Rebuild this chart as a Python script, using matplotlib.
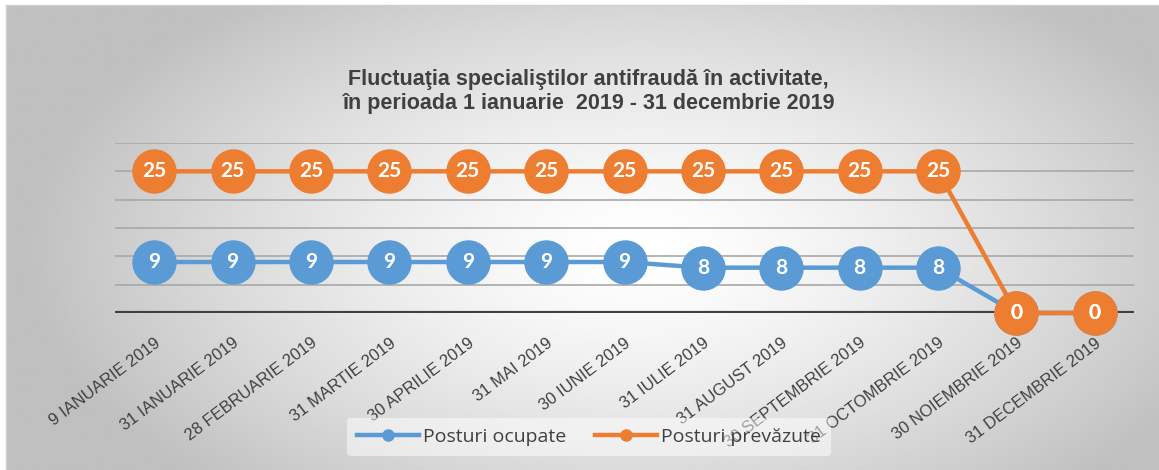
import numpy as np
import matplotlib.pyplot as plt
from matplotlib.lines import Line2D

# ── Data ────────────────────────────────────────────────────
dates = ["9 IANUARIE 2019", "31 IANUARIE 2019", "28 FEBRUARIE 2019",
         "31 MARTIE 2019", "30 APRILIE 2019", "31 MAI 2019",
         "30 IUNIE 2019", "31 IULIE 2019", "31 AUGUST 2019",
         "30 SEPTEMBRIE 2019", "31 OCTOMBRIE 2019", "30 NOIEMBRIE 2019",
         "31 DECEMBRIE 2019"]
ocupate = [9, 9, 9, 9, 9, 9, 9, 8, 8, 8, 8, 0, 0]
prevazute = [25, 25, 25, 25, 25, 25, 25, 25, 25, 25, 25, 0, 0]
y_ticks = [0, 5, 10, 15, 20, 25, 30]

title = ("Fluctuaţia specialiştilor antifraudă în activitate,\n"
         "în perioada 1 ianuarie  2019 - 31 decembrie 2019")

BLUE = "#5B9BD5"
ORANGE = "#ED7D31"
TXT = "#404040"
narrow = ["Liberation Sans Narrow", "Liberation Sans", "DejaVu Sans"]
num_font = ["Lato", "DejaVu Sans"]

W, H = 1159, 470
fig = plt.figure(figsize=(W / 100, H / 100), dpi=100)
fig.patch.set_facecolor("white")

# ── Gradient background ─────────────────────────────────────
bg = fig.add_axes([0, 0, 1, 1], zorder=-10)
bg.set_xlim(0, W)
bg.set_ylim(H, 0)
bg.axis("off")
xx, yy = np.meshgrid(np.linspace(6, W, 400), np.linspace(5, H, 200))
d = np.sqrt(((xx - 640) / 620) ** 2 + ((yy - 250) / 330) ** 2)
shade = 1.0 - 0.25 * np.clip(d, 0, 1) ** 1.4
bg.imshow(shade, cmap="gray", vmin=0, vmax=1, extent=[6, W, H, 5],
          aspect="auto", interpolation="bilinear")
bg.plot([6, W], [5, 5], color="#d0d0d0", lw=1)
bg.plot([6, 6], [5, H], color="#d0d0d0", lw=1)

# ── Chart ───────────────────────────────────────────────────
ax = fig.add_axes([115 / W, (H - 313) / H, 1019 / W, 170 / H])
ax.set_facecolor("none")
x = np.arange(len(dates))
ax.set_xlim(-0.5, len(dates) - 0.5)
ax.set_ylim(0, 30)

for t in y_ticks[1:]:
    ax.axhline(t, color="#a8a8a8", lw=1.2, zorder=1)
ax.axhline(0, color=TXT, lw=3, zorder=2)

for vals, col in [(ocupate, BLUE), (prevazute, ORANGE)]:
    ax.plot(x, vals, color=col, lw=3.2, marker="o", markersize=32,
            markeredgewidth=0, clip_on=False, zorder=3)
    for xi, v in zip(x, vals):
        ax.text(xi, v, str(v), ha="center", va="center", color="white",
                fontsize=15, fontweight="bold", family=num_font, zorder=4)

ax.set_yticks([])
ax.set_xticks(x)
ax.set_xticklabels(dates, rotation=37, ha="right", rotation_mode="anchor",
                   fontsize=12, color=TXT, family=narrow)
ax.tick_params(axis="x", length=0, pad=16)
for s in ax.spines.values():
    s.set_visible(False)

fig.text(0.508, 0.805, title, ha="center", va="center", fontsize=15.5,
         fontweight="bold", color=TXT, family=narrow, linespacing=1.2)

handles = [Line2D([0], [0], color=BLUE, lw=3.2, marker="o", markersize=8),
           Line2D([0], [0], color=ORANGE, lw=3.2, marker="o", markersize=8)]
leg = fig.legend(handles, ["Posturi ocupate", "Posturi prevăzute"],
                 loc="center", bbox_to_anchor=(0.508, 0.07), ncol=2,
                 frameon=True, fontsize=14, handlelength=3.2,
                 handletextpad=0.2, columnspacing=1.5, borderpad=0.5)
leg.get_frame().set_facecolor("white")
leg.get_frame().set_alpha(0.5)
leg.get_frame().set_edgecolor("none")
for t in leg.get_texts():
    t.set_color(TXT)
    t.set_family(["Open Sans", "DejaVu Sans"])

fig.savefig("out.png", dpi=100)
